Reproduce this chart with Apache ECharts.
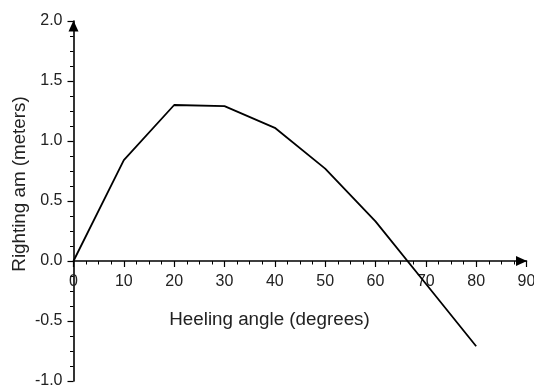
<!DOCTYPE html>
<html>
<head>
<meta charset="utf-8">
<script src="https://cdn.jsdelivr.net/npm/echarts@6/dist/echarts.min.js"></script>
<style>
  html, body { margin: 0; padding: 0; background: #fff; }
  #chart { width: 534px; height: 388px; }
</style>
</head>
<body>
<div id="chart"></div>
<script>
// Righting arm curve: heeling angle (degrees) vs righting arm (meters)
const heelAngles = [0, 10, 20, 30, 40, 50, 60, 70, 80];
const rightingArm = [0, 0.84, 1.30, 1.29, 1.11, 0.77, 0.33, -0.19, -0.71];

const xTitle = 'Heeling angle (degrees)';
const yTitle = 'Righting am (meters)';

const FONT = '"Liberation Sans", Arial, sans-serif';

const Y_MIN = -1, Y_MAX = 2;
const GRID_TOP = 21, GRID_H = 360;
// the x axis crosses the y axis at zero: shift it up from the grid bottom
const xAxisShift = -GRID_H * (0 - Y_MIN) / (Y_MAX - Y_MIN);

const chart = echarts.init(document.getElementById('chart'), null, { renderer: 'canvas' });

const axisArrow = {
  show: true,
  onZero: false,
  symbol: ['none', 'triangle'],
  symbolSize: [10, 11],
  symbolOffset: [0, -5],
  lineStyle: { color: '#000', width: 1.6 }
};

chart.setOption({
  animation: false,
  backgroundColor: '#fff',
  grid: {
    left: 73.5, top: GRID_TOP, width: 453, height: GRID_H,
    containLabel: false, outerBoundsMode: 'none'
  },
  xAxis: {
    type: 'value',
    position: 'bottom',
    offset: xAxisShift,
    min: 0, max: 90, interval: 10,
    axisLine: axisArrow,
    axisTick: { show: true, inside: false, length: 6, lineStyle: { color: '#000', width: 1.2 } },
    minorTick: { show: true, splitNumber: 4, length: 3.5, lineStyle: { color: '#000', width: 1 } },
    splitLine: { show: false },
    axisLabel: {
      show: true, margin: 13, color: '#222', fontSize: 16, fontFamily: FONT,
      showMinLabel: true, showMaxLabel: true, hideOverlap: false
    }
  },
  yAxis: {
    type: 'value',
    min: Y_MIN, max: Y_MAX, interval: 0.5,
    axisLine: axisArrow,
    axisTick: { show: true, inside: false, length: 6, lineStyle: { color: '#000', width: 1.2 } },
    minorTick: { show: true, splitNumber: 4, length: 3.5, lineStyle: { color: '#000', width: 1 } },
    splitLine: { show: false },
    axisLabel: {
      show: true, margin: 11, color: '#222', fontSize: 16, fontFamily: FONT,
      formatter: v => v.toFixed(1)
    }
  },
  series: [{
    type: 'line',
    data: heelAngles.map((a, i) => [a, rightingArm[i]]),
    showSymbol: false,
    lineStyle: { color: '#000', width: 1.8 },
    z: 3
  }],
  graphic: [
    {
      type: 'text', x: 269.5, y: 320,
      style: { text: xTitle, font: '18.8px ' + FONT, fill: '#222', align: 'center', verticalAlign: 'middle' }
    },
    {
      type: 'text', x: 19.5, y: 184, rotation: Math.PI / 2,
      style: { text: yTitle, font: '18.8px ' + FONT, fill: '#222', align: 'center', verticalAlign: 'middle' }
    }
  ]
});
</script>
</body>
</html>
